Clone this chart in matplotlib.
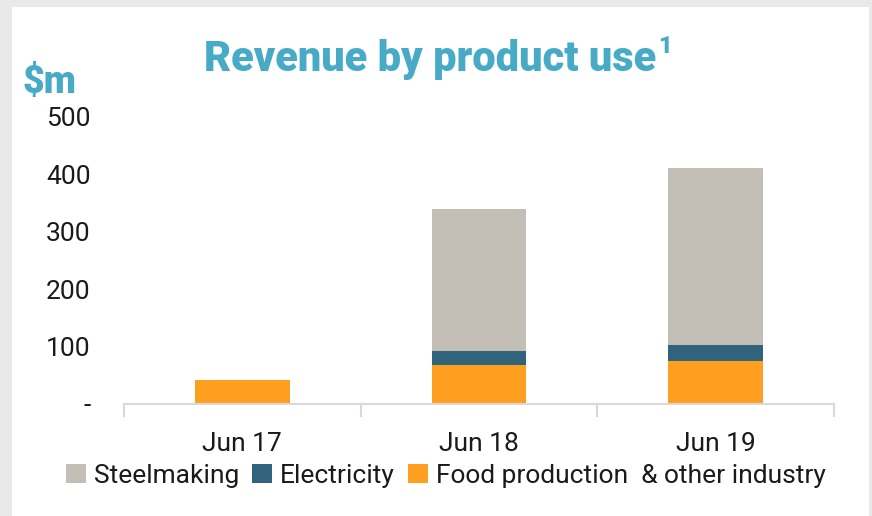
import numpy as np
import matplotlib.pyplot as plt
from matplotlib.patches import Rectangle

plt.rcParams['font.family'] = ['Roboto', 'DejaVu Sans']

# data ($m)
periods = ['Jun 17', 'Jun 18', 'Jun 19']
food = [42, 68, 75]
electricity = [0, 24, 28]
steelmaking = [0, 247, 309]
yticks = [0, 100, 200, 300, 400, 500]
yticklabels = ['-', '100', '200', '300', '400', '500']

c_steel = '#c3bfb7'
c_elec = '#31647c'
c_food = '#ff9f1f'
c_title = '#47aac7'
c_text = '#1a1a1a'

fig = plt.figure(figsize=(8.72, 5.16), dpi=100, facecolor='#e9e9e9')
fig.patches.append(Rectangle((12 / 872, 0), (869 - 12) / 872, 1 - 7 / 516,
                             transform=fig.transFigure, facecolor='white',
                             edgecolor='none', zorder=-5))

ax = fig.add_axes([124 / 872, 1 - 404 / 516, (834 - 124) / 872, (404 - 117) / 516])
ax.set_facecolor('none')

x = np.arange(len(periods))
w = 0.4
food = np.array(food)
electricity = np.array(electricity)
steelmaking = np.array(steelmaking)
ax.bar(x, food, w, color=c_food, label='Food production  & other industry', zorder=2)
ax.bar(x, electricity, w, bottom=food, color=c_elec, label='Electricity', zorder=2)
ax.bar(x, steelmaking, w, bottom=food + electricity, color=c_steel, label='Steelmaking', zorder=2)

ax.set_xlim(-0.5, 2.5)
ax.set_ylim(0, 500)
ax.set_xticks(x)
ax.set_xticklabels(periods, fontsize=19, color=c_text)
ax.set_xticks([-0.5, 0.5, 1.5, 2.5], minor=True)
ax.tick_params(axis='x', which='major', length=0, pad=20)
ax.tick_params(axis='x', which='minor', length=9, width=1.5, color='#d9d9d9')
ax.set_yticks(yticks)
ax.set_yticklabels(yticklabels, fontsize=19, color=c_text)
ax.tick_params(axis='y', length=0, pad=24)

for s in ['top', 'right', 'left']:
    ax.spines[s].set_visible(False)
ax.spines['bottom'].set_color('#d9d9d9')
ax.spines['bottom'].set_linewidth(1.5)

fig.text(430 / 872, 1 - 60 / 516, 'Revenue by product use', ha='center', va='center',
         fontsize=30, fontweight='black', color=c_title)
fig.text(658 / 872, 1 - 47 / 516, '1', ha='left', va='center',
         fontsize=17, fontweight='black', color=c_title)
fig.text(22 / 872, 1 - 82 / 516, '$m', ha='left', va='center',
         fontsize=27, fontweight='black', color=c_title)

handles, labels = ax.get_legend_handles_labels()
order = [2, 1, 0]
fig.legend([handles[i] for i in order], [labels[i] for i in order],
           loc='center', bbox_to_anchor=(446 / 872, 1 - 476 / 516), ncol=3,
           frameon=False, fontsize=19, handlelength=0.75, handleheight=0.75,
           handletextpad=0.3, columnspacing=0.5, labelcolor=c_text)

fig.savefig('out.png', dpi=100, facecolor=fig.get_facecolor())
